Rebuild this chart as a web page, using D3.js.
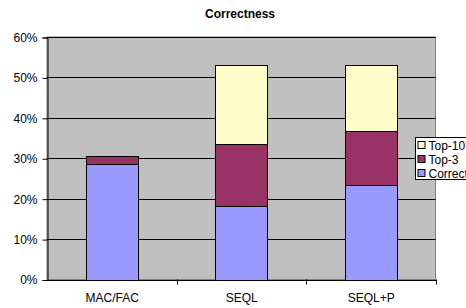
<!DOCTYPE html>
<html><head><meta charset="utf-8">
<script src="https://cdn.jsdelivr.net/npm/d3@7"></script>
<style>html,body{margin:0;padding:0;background:#fff;overflow:hidden}svg{display:block}text{font-family:"Liberation Sans",Arial,sans-serif}</style>
</head><body>
<svg id="c" width="466" height="308"></svg>
<script>
const categories = ["MAC/FAC", "SEQL", "SEQL+P"];
const seriesNames = ["Correct", "Top-3", "Top-10"];
const correct = [28.5, 18.3, 23.3];
const top3 = [2.1, 15.3, 13.4];
const top10 = [0, 19.4, 16.3];
const yTicks = [0, 10, 20, 30, 40, 50, 60];
const colors = ["#9999FF", "#993366", "#FFFFCC"];

const svg = d3.select("#c");
const L = 47, R = 435.5, T = 37, B = 279.5;
const x = d3.scaleBand().domain(categories).range([L, R]).paddingInner(0.6).paddingOuter(0.3);
const xb = d3.scaleBand().domain(categories).range([L, R]);
const y = d3.scaleLinear().domain([0, 60]).range([B, T]);

svg.append("text").attr("x", 240).attr("y", 17.5).attr("text-anchor", "middle")
  .attr("font-size", 12).attr("font-weight", "bold").text("Correctness");

svg.append("rect").attr("x", L).attr("y", T).attr("width", R - L).attr("height", B - T)
  .attr("fill", "#C0C0C0").attr("stroke", "#808080").attr("stroke-width", 1);

svg.append("g").selectAll("line").data(yTicks.slice(1)).join("line")
  .attr("x1", L).attr("x2", R).attr("y1", d => Math.round(y(d)) + 0.5).attr("y2", d => Math.round(y(d)) + 0.5)
  .attr("stroke", "#000").attr("stroke-width", 1);

const rows = categories.map((c, i) => ({cat: c, Correct: correct[i], "Top-3": top3[i], "Top-10": top10[i]}));
const stack = d3.stack().keys(seriesNames)(rows);
svg.append("g").selectAll("g").data(stack).join("g").attr("fill", (d, i) => colors[i])
  .selectAll("rect").data(d => d.filter(p => p[1] - p[0] > 0)).join("rect")
  .attr("x", d => Math.round(x(d.data.cat)) + 0.5)
  .attr("width", Math.round(x.bandwidth()))
  .attr("y", d => Math.round(y(d[1])) + 0.5)
  .attr("height", d => Math.round(y(d[0])) - Math.round(y(d[1])))
  .attr("stroke", "#000").attr("stroke-width", 1);

// y axis
const ya = svg.append("g").attr("transform", `translate(${L + 0.5},0.5)`)
  .call(d3.axisLeft(y).tickValues(yTicks).tickFormat(d => d + "%").tickSize(5).tickPadding(5));
ya.selectAll("text").attr("font-size", 12).attr("fill", "#000").style("font-family", '"Liberation Sans",Arial,sans-serif');
ya.selectAll("line,path").attr("stroke", "#000");

// x axis
const xa = svg.append("g").attr("transform", `translate(0.5,${B + 0.5})`)
  .call(d3.axisBottom(xb).tickSize(0).tickPadding(13));
xa.select("path").attr("stroke", "#000");
xa.selectAll("text").attr("font-size", 12).attr("fill", "#000").style("font-family", '"Liberation Sans",Arial,sans-serif');
svg.append("g").selectAll("line").data(categories).join("line")
  .attr("x1", d => Math.round(xb(d) + xb.bandwidth()) + 0.5).attr("x2", d => Math.round(xb(d) + xb.bandwidth()) + 0.5)
  .attr("y1", B).attr("y2", B + 5).attr("stroke", "#000");

// legend
const lg = svg.append("g").attr("transform", "translate(415.5,137.5)");
lg.append("rect").attr("width", 80).attr("height", 42).attr("fill", "#fff").attr("stroke", "#000");
const order = seriesNames.slice().reverse();
const li = lg.selectAll("g").data(order).join("g").attr("transform", (d, i) => `translate(0,${i * 14})`);
li.append("rect").attr("x", 2.5).attr("y", 4).attr("width", 7).attr("height", 7)
  .attr("fill", d => colors[seriesNames.indexOf(d)]).attr("stroke", "#000");
li.append("text").attr("x", 13).attr("y", 12).attr("font-size", 12).text(d => d);
</script>
</body></html>
